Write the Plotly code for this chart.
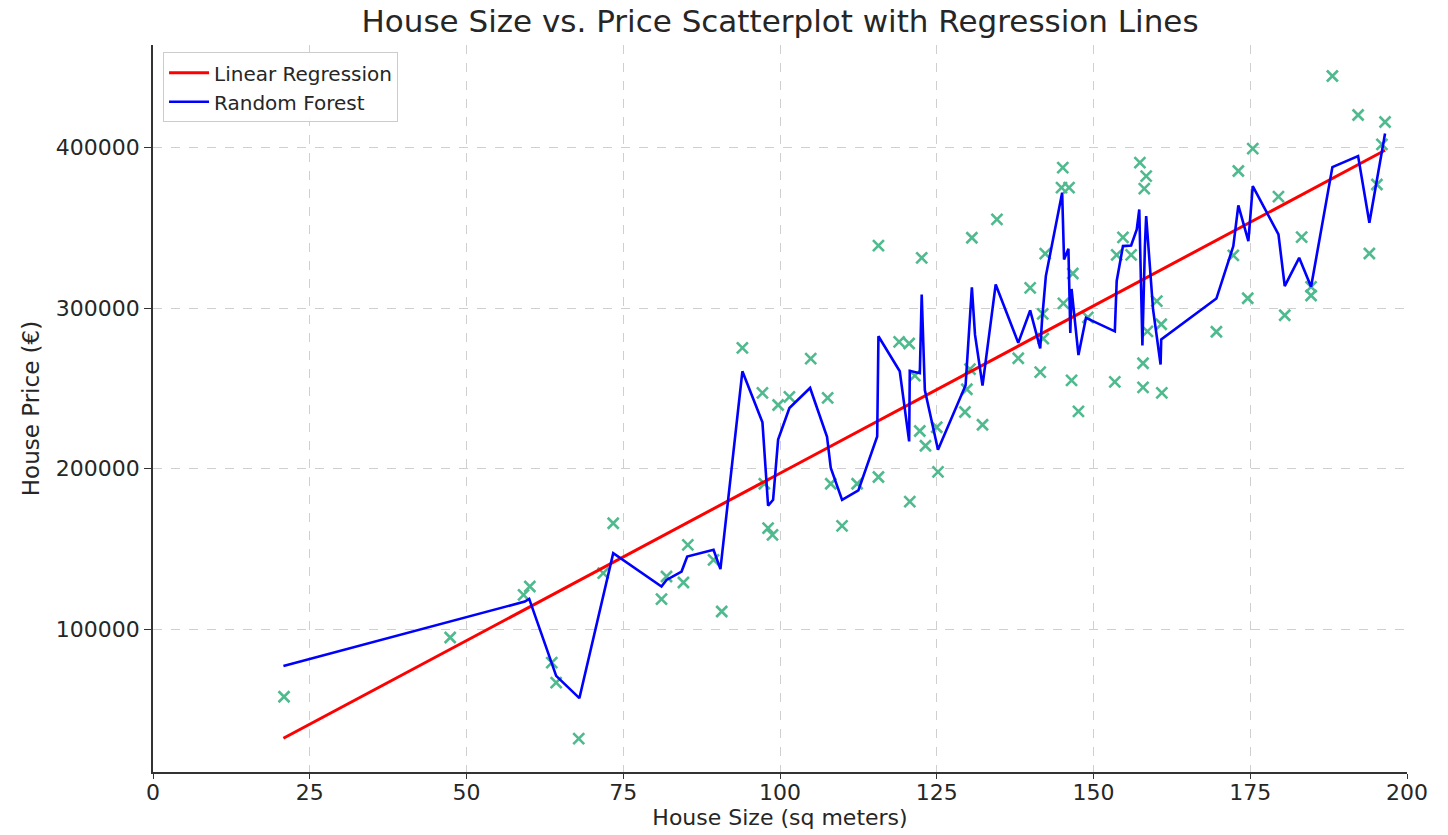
import plotly.graph_objects as go

# Scatter data: house size (sq m) and price (EUR)
size_pts = [20.9, 47.4, 59.1, 60.1, 63.6, 64.3, 67.9, 71.8, 73.4, 81.1,
            81.9, 84.6, 85.3, 89.4, 90.7, 94.0, 97.2, 97.5, 98.1, 98.8,
            99.7, 101.5, 104.9, 107.6, 108.1, 109.9, 112.3, 115.7, 115.7, 119.0,
            120.6, 121.5, 120.7, 122.6, 122.3, 123.2, 125.0, 125.2, 129.5, 129.8,
            130.6, 130.3, 132.3, 134.6, 138.0, 139.9, 141.5, 142.0, 141.9, 142.3,
            145.1, 144.9, 146.1, 145.2, 146.7, 146.5, 147.6, 149.1, 153.4, 154.7,
            153.7, 156.0, 157.4, 158.4, 158.1, 157.9, 157.9, 158.6, 160.1, 160.8,
            160.9, 169.6, 172.3, 173.1, 174.6, 175.4, 179.5, 180.5, 183.2, 184.7,
            184.7, 188.1, 192.2, 196.5, 196.0, 195.2, 194.0]
price_pts = [57900, 94800, 121400, 126600, 79200, 66700, 31800, 134900, 166000, 118700,
             132800, 129100, 152500, 143200, 111000, 275300, 247200, 190600, 163000, 158800,
             239700, 244700, 268600, 244100, 190600, 164400, 190600, 194800, 339000, 279000,
             278000, 258000, 179500, 331400, 223500, 214300, 225800, 198000, 235300, 249500,
             343900, 262000, 227400, 355300, 268800, 312700, 260200, 281000, 296500, 334000,
             387600, 375100, 375100, 303000, 321600, 255000, 235700, 294300, 254100, 344100,
             333200, 333200, 390700, 382300, 374500, 265700, 250700, 285600, 304400, 290000,
             247200, 285300, 332900, 385500, 306200, 399400, 369500, 295600, 344300, 313300,
             307900, 444700, 420400, 416000, 402100, 377100, 334100]

# Linear regression line endpoints
lr_x = [20.8, 196.5]
lr_y = [32000, 398400]

# Random forest prediction line
rf_x = [20.8, 59.3, 60.0, 64.3, 68.0, 73.4, 81.1, 81.9, 84.3, 85.2,
        89.4, 90.5, 94.0, 97.2, 98.1, 98.9, 99.7, 101.5, 104.8, 107.5,
        108.1, 109.9, 112.5, 115.5, 115.7, 119.1, 120.6, 120.7, 122.3, 122.6,
        123.1, 125.2, 129.6, 130.6, 131.1, 132.3, 134.4, 138.0, 139.9, 141.5,
        141.8, 142.4, 145.0, 145.3, 146.0, 146.3, 146.5, 147.6, 148.8, 153.4,
        153.7, 154.7, 156.0, 156.9, 157.3, 157.8, 158.2, 158.4, 159.5, 160.7,
        160.8, 169.6, 172.3, 173.1, 174.7, 175.4, 179.5, 180.5, 182.8, 184.7,
        188.1, 192.2, 194.0, 196.5]
rf_y = [77000, 117200, 118900, 70900, 57000, 147400, 126600, 130700, 135900, 145300,
        149500, 137400, 260700, 228900, 176900, 180600, 218100, 237800, 250300, 219800,
        200400, 180600, 186500, 220100, 282500, 260700, 217000, 261000, 259500, 308500,
        249000, 211800, 252000, 313000, 283500, 251800, 314800, 278400, 298600, 275000,
        292900, 320000, 372000, 330400, 337000, 284600, 312000, 270800, 294000, 285600,
        317000, 338700, 339100, 349100, 361500, 276700, 338700, 357400, 299200, 264900,
        280500, 306000, 338700, 364100, 341800, 376100, 346000, 313700, 331400, 313300,
        387900, 394800, 353300, 408800]

x_ticks = [0, 25, 50, 75, 100, 125, 150, 175, 200]
y_ticks = [100000, 200000, 300000, 400000]

FONT = "DejaVu Sans, Verdana, sans-serif"

fig = go.Figure()
fig.add_trace(go.Scatter(
    x=size_pts, y=price_pts, mode="markers", showlegend=False,
    marker=dict(symbol="x-thin", size=11, color="#4fba8e",
                line=dict(width=2.6, color="#4fba8e")),
    hoverinfo="x+y"))
fig.add_trace(go.Scatter(
    x=lr_x, y=lr_y, mode="lines", name="Linear Regression",
    line=dict(color="#ff0000", width=3)))
fig.add_trace(go.Scatter(
    x=rf_x, y=rf_y, mode="lines", name="Random Forest",
    line=dict(color="#0000ff", width=2.6)))

axis_common = dict(
    showgrid=True, gridcolor="#cfcfcf", griddash="dash", gridwidth=1,
    zeroline=False, showline=True, linecolor="#333333", linewidth=1.5,
    tickcolor="#333333", tickwidth=1.2, ticks="outside",
    tickfont=dict(family=FONT, size=22, color="#262626"),
    mirror=False, automargin=False)

fig.update_layout(
    width=1448, height=835,
    paper_bgcolor="white", plot_bgcolor="white",
    margin=dict(l=153, r=41, t=45, b=63),
    title=dict(text="House Size vs. Price Scatterplot with Regression Lines",
               x=(153 + 1407) / 2 / 1448, xanchor="center", y=0.975, yanchor="middle",
               font=dict(family=FONT, size=31, color="#262626")),
    xaxis=dict(range=[0, 200], tickvals=x_ticks, ticklen=5, ticklabelstandoff=-5,
               title=dict(text="House Size (sq meters)", standoff=2,
                          font=dict(family=FONT, size=22, color="#262626")),
               **axis_common),
    yaxis=dict(range=[11000, 464000], tickvals=y_ticks, tickformat="d", ticklen=7,
               title=dict(text="House Price (€)", standoff=10,
                          font=dict(family=FONT, size=23, color="#262626")),
               **axis_common),
    legend=dict(x=0.008, y=0.99, xanchor="left", yanchor="top",
                bgcolor="rgba(255,255,255,0.9)", bordercolor="#cccccc", borderwidth=1,
                font=dict(family=FONT, size=20, color="#262626"),
                itemwidth=40, tracegroupgap=2),
    showlegend=True,
)

fig.write_html("out.html")
